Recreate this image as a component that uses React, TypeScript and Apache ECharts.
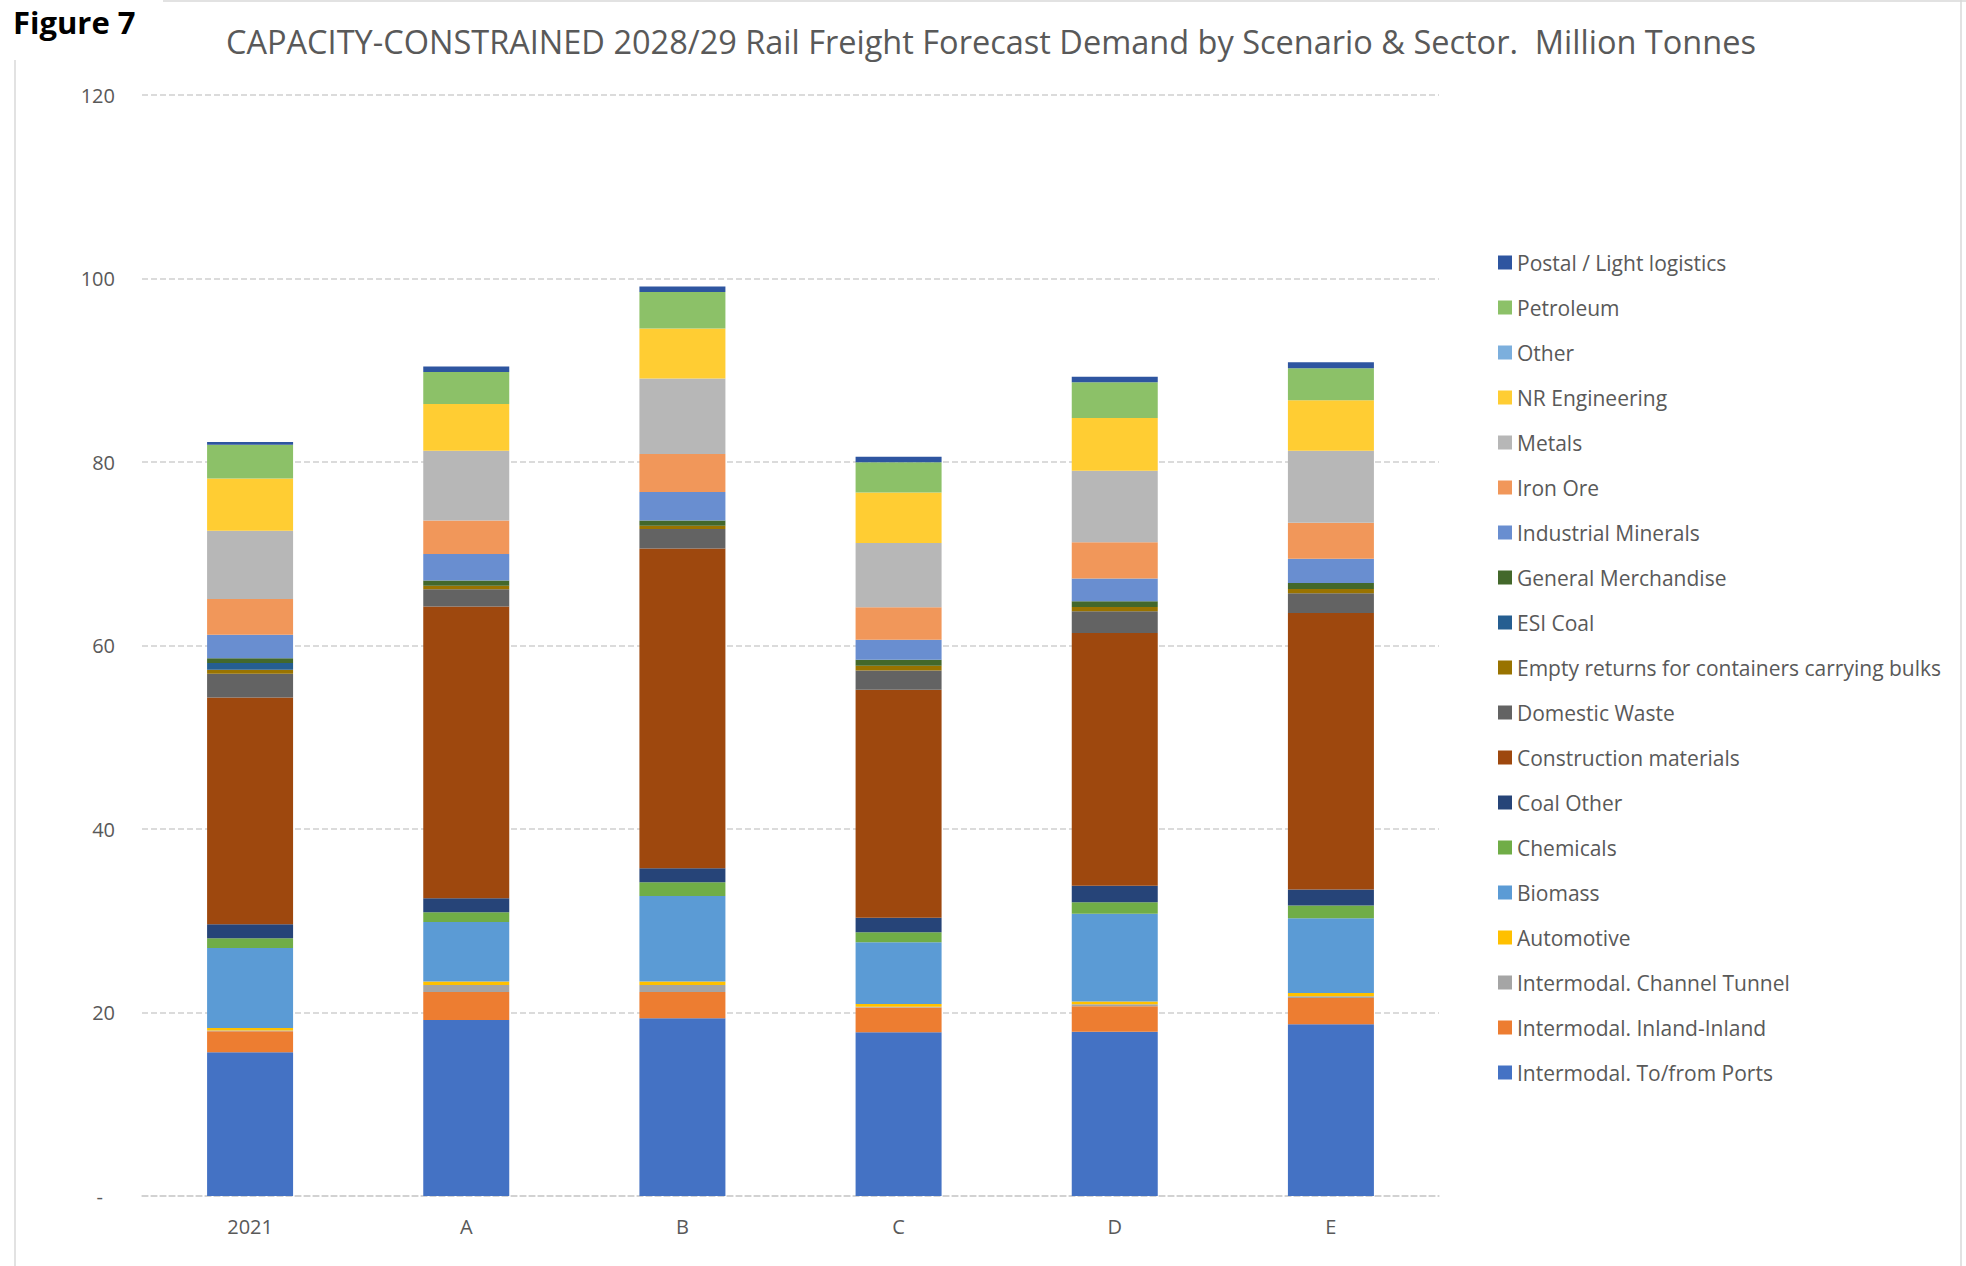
import React, { useEffect, useRef } from "react";
import * as echarts from "echarts";

const categories = ["2021", "A", "B", "C", "D", "E"];
const yTicks = [0, 20, 40, 60, 80, 100, 120];

const ports = [15.67, 19.19, 19.37, 17.85, 17.89, 18.71];
const inland = [2.3, 3.05, 2.87, 2.69, 2.8, 2.87];
const channelTunnel = [0.06, 0.76, 0.76, 0.1, 0.2, 0.2];
const automotive = [0.29, 0.37, 0.37, 0.29, 0.3, 0.35];
const biomass = [8.72, 6.5, 9.34, 6.73, 9.58, 8.15];
const chemicals = [1.05, 1.06, 1.49, 1.09, 1.25, 1.37];
const coalOther = [1.53, 1.53, 1.53, 1.59, 1.79, 1.76];
const construction = [24.71, 31.79, 34.84, 24.83, 27.54, 30.12];
const domesticWaste = [2.58, 1.89, 2.12, 2.1, 2.38, 2.17];
const emptyReturns = [0.44, 0.36, 0.36, 0.52, 0.46, 0.46];
const esiCoal = [0.73, 0, 0, 0, 0, 0];
const generalMerch = [0.54, 0.59, 0.58, 0.65, 0.63, 0.66];
const industrialMinerals = [2.54, 2.88, 3.09, 2.18, 2.49, 2.63];
const ironOre = [3.9, 3.66, 4.14, 3.56, 3.93, 3.92];
const metals = [7.44, 7.59, 8.25, 6.98, 7.8, 7.85];
const nrEngineering = [5.71, 5.09, 5.45, 5.52, 5.76, 5.51];
const other = [0, 0, 0, 0, 0, 0];
const petroleum = [3.67, 3.49, 3.97, 3.3, 3.88, 3.5];
const postal = [0.3, 0.62, 0.61, 0.6, 0.6, 0.63];

// bottom-to-top stacking order
const seriesDefs = [
  { name: "Intermodal. To/from Ports", data: ports, color: "#4472C4" },
  { name: "Intermodal. Inland-Inland", data: inland, color: "#ED7D31" },
  { name: "Intermodal. Channel Tunnel", data: channelTunnel, color: "#A5A5A5" },
  { name: "Automotive", data: automotive, color: "#FFC000" },
  { name: "Biomass", data: biomass, color: "#5B9BD5" },
  { name: "Chemicals", data: chemicals, color: "#70AD47" },
  { name: "Coal Other", data: coalOther, color: "#264478" },
  { name: "Construction materials", data: construction, color: "#9E480E" },
  { name: "Domestic Waste", data: domesticWaste, color: "#636363" },
  { name: "Empty returns for containers carrying bulks", data: emptyReturns, color: "#997300" },
  { name: "ESI Coal", data: esiCoal, color: "#255E91" },
  { name: "General Merchandise", data: generalMerch, color: "#43682B" },
  { name: "Industrial Minerals", data: industrialMinerals, color: "#698ED0" },
  { name: "Iron Ore", data: ironOre, color: "#F1975A" },
  { name: "Metals", data: metals, color: "#B7B7B7" },
  { name: "NR Engineering", data: nrEngineering, color: "#FFCD33" },
  { name: "Other", data: other, color: "#7CAFDD" },
  { name: "Petroleum", data: petroleum, color: "#8CC168" },
  { name: "Postal / Light logistics", data: postal, color: "#2E55A0" },
];

const titleText =
  "CAPACITY-CONSTRAINED 2028/29 Rail Freight Forecast Demand by Scenario & Sector.  Million Tonnes";

export default function App() {
  const ref = useRef<HTMLDivElement>(null);

  useEffect(() => {
    if (!ref.current) return;
    const chart = echarts.init(ref.current, null, { renderer: "svg" });
    const font = "Open Sans";
    const option = {
      animation: false,
      backgroundColor: "#ffffff",
      textStyle: { fontFamily: font },
      grid: { left: 142, right: 527, top: 95, bottom: 70, containLabel: false },
      legend: {
        orient: "vertical",
        left: 1493,
        top: 247,
        itemWidth: 14,
        itemHeight: 14,
        itemGap: 24,
        icon: "rect",
        data: seriesDefs.map((s) => s.name).reverse(),
        textStyle: { color: "#595959", fontSize: 21, lineHeight: 20, fontFamily: font },
        selectedMode: false,
      },
      xAxis: {
        type: "category",
        data: categories,
        axisTick: { show: false },
        axisLine: { lineStyle: { color: "#D0D0D0", type: "dashed", width: 1.5 } },
        axisLabel: { color: "#595959", fontSize: 20, margin: 20, fontFamily: font },
      },
      yAxis: {
        type: "value",
        min: yTicks[0],
        max: yTicks[yTicks.length - 1],
        interval: 20,
        axisLine: { show: false },
        axisTick: { show: false },
        splitLine: { lineStyle: { color: "#D0D0D0", type: "dashed", width: 1.5 } },
        axisLabel: {
          color: "#595959",
          fontSize: 20,
          margin: 27,
          fontFamily: font,
          formatter: (v: number) => (v === 0 ? "{d|-}" : String(v)),
          rich: { d: { color: "#595959", fontSize: 20, padding: [0, 12, 0, 0] } },
        },
      },
      series: seriesDefs.map((s) => ({
        name: s.name,
        type: "bar",
        stack: "total",
        barWidth: 86,
        data: s.data,
        itemStyle: { color: s.color },
        emphasis: { disabled: true },
      })),
      graphic: [
        {
          type: "line",
          shape: { x1: 163, y1: 1, x2: 1966, y2: 1 },
          style: { stroke: "#D9D9D9", lineWidth: 1.5 },
        },
        {
          type: "line",
          shape: { x1: 15, y1: 60, x2: 15, y2: 1266 },
          style: { stroke: "#D9D9D9", lineWidth: 1.5 },
        },
        {
          type: "line",
          shape: { x1: 1961, y1: 0, x2: 1961, y2: 1266 },
          style: { stroke: "#D9D9D9", lineWidth: 1.5 },
        },
        {
          type: "text",
          left: 13,
          top: 6,
          style: { text: "Figure 7", font: `bold 31px "${font}"`, fill: "#000000" },
        },
        {
          type: "text",
          left: 226,
          top: 25,
          style: { text: titleText, font: `32.5px "${font}"`, fill: "#595959" },
        },
      ],
    };
    chart.setOption(option as any);
    return () => chart.dispose();
  }, []);

  return (
    <div
      ref={ref}
      style={{ position: "fixed", left: 0, top: 0, width: 1966, height: 1266, background: "#fff" }}
    />
  );
}
